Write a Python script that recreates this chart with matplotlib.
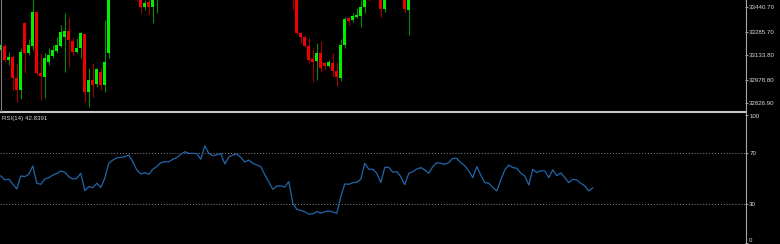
import numpy as np
import matplotlib
matplotlib.use("Agg")
import matplotlib.pyplot as plt
from matplotlib.lines import Line2D

# ---------------- data ----------------
# bar index of candles that are visible in the price window
bar_idx = list(range(0, 28)) + [34, 35, 36, 37, 38, 39] + list(range(73, 93)) + [95, 96, 101, 102]
opens = [33167.7, 33193.3, 33103.8, 33122.9, 32988.7, 32911.9, 33340.3, 33148.5, 33193.3, 33410.7,
         33020.6, 32995.1, 33091.0, 33129.3, 33161.3, 33193.3, 33250.8, 33289.2, 33225.2, 33154.9,
         33180.5, 33270.0, 32899.2, 32975.9, 32950.3, 33027.0, 32943.9, 33148.5,
         33560.0, 33530.0, 33442.6, 33474.6, 33442.6, 33520.0,
         33520.0, 33492.0, 33276.4, 33250.8, 33193.3, 33110.2, 33097.4, 33148.5, 33084.6, 33065.4,
         33084.6, 33033.4, 32988.7, 33199.7, 33372.3, 33359.5, 33378.7, 33385.1, 33442.6, 33540.0,
         33520.0, 33429.9, 33520.0, 33423.5]
highs = [33212.5, 33206.1, 33154.9, 33135.7, 33084.6, 33180.5, 33346.7, 33238.0, 33500.0, 33417.1,
         33148.5, 33148.5, 33180.5, 33199.7, 33250.8, 33327.5, 33404.3, 33372.3, 33244.4, 33244.4,
         33282.8, 33276.4, 33052.6, 33084.6, 33052.6, 33059.0, 33359.5, 33540.0,
         33580.0, 33560.0, 33490.0, 33495.0, 33520.0, 33560.0,
         33540.0, 33510.0, 33280.0, 33263.6, 33244.4, 33180.5, 33212.5, 33225.2, 33091.0, 33103.8,
         33148.5, 33091.0, 33238.0, 33378.7, 33378.7, 33404.3, 33436.2, 33490.0, 33520.0, 33550.0,
         33540.0, 33520.0, 33540.0, 33520.0]
lows = [33154.9, 33091.0, 33071.8, 32911.9, 32835.2, 32854.4, 33020.6, 33135.7, 33167.7, 33007.9,
        32848.0, 32860.8, 33071.8, 33116.5, 33148.5, 33186.9, 33027.0, 33059.0, 33135.7, 33148.5,
        33116.5, 32835.2, 32803.2, 32867.2, 32931.1, 32911.9, 32899.2, 33116.5,
        33481.0, 33404.3, 33423.5, 33391.5, 33340.3, 33404.3,
        33423.5, 33270.0, 33212.5, 33186.9, 33084.6, 32963.1, 32975.9, 33027.0, 33039.8, 33059.0,
        32995.1, 32937.5, 32969.5, 33180.5, 33327.5, 33346.7, 33372.3, 33314.8, 33404.3, 33478.0,
        33378.7, 33410.7, 33404.3, 33263.6]
closes = [33199.7, 33103.8, 33122.9, 32988.7, 32911.9, 33154.9, 33148.5, 33199.7, 33410.7, 33020.6,
          33001.5, 33116.5, 33135.7, 33167.7, 33199.7, 33282.8, 33289.2, 33231.6, 33154.9, 33180.5,
          33276.4, 32899.2, 32975.9, 32943.9, 33046.2, 32943.9, 33091.0, 33520.0,
          33495.0, 33442.6, 33468.2, 33442.6, 33500.0, 33540.0,
          33495.0, 33276.4, 33250.8, 33193.3, 33103.8, 33091.0, 33148.5, 33052.6, 33065.4, 33091.0,
          33033.4, 32995.1, 33199.7, 33365.9, 33353.1, 33385.1, 33391.5, 33442.6, 33500.0, 33510.0,
          33429.9, 33500.0, 33429.9, 33500.0]

rsi = [52.1, 49.0, 49.7, 45.6, 42.0, 52.1, 51.6, 53.4, 59.9, 46.4,
       45.6, 49.7, 50.8, 52.8, 54.0, 56.0, 55.0, 51.5, 49.7, 50.3,
       54.2, 40.6, 43.8, 43.0, 46.4, 43.2, 50.3, 62.0, 64.5, 66.2,
       66.6, 67.1, 68.4, 63.2, 56.8, 53.6, 54.7, 53.4, 57.3, 59.4,
       62.5, 63.2, 63.2, 65.1, 66.4, 69.0, 71.0, 69.7, 69.7, 69.5,
       65.1, 75.5, 69.7, 67.9, 68.5, 69.5, 61.5, 66.8, 68.4, 69.2,
       66.6, 63.0, 64.5, 62.0, 60.6, 59.4, 53.0, 47.5, 41.7, 44.3,
       44.3, 43.5, 47.7, 30.8, 26.1, 25.2, 24.2, 22.3, 22.5, 24.5,
       23.0, 24.3, 24.8, 24.0, 23.0, 36.0, 45.9, 45.6, 46.9, 47.2,
       49.5, 62.0, 57.3, 57.3, 54.2, 46.9, 58.8, 58.8, 55.0, 55.5,
       51.5, 45.3, 54.2, 55.5, 57.5, 58.6, 56.8, 54.2, 59.4, 62.5,
       61.9, 61.2, 62.5, 65.8, 65.8, 62.5, 60.0, 56.0, 50.8, 59.4,
       52.8, 46.9, 46.4, 43.0, 40.4, 49.0, 56.8, 60.6, 58.6, 58.1,
       54.2, 52.1, 45.0, 57.3, 54.7, 56.2, 56.0, 50.8, 56.8, 52.3,
       54.5, 50.8, 46.9, 49.5, 49.0, 46.4, 44.3, 40.4, 42.8391]

price_ticks = [32826.90, 32978.80, 33133.80, 33285.70, 33440.70]
rsi_levels = [30, 70]
rsi_ticks = [100, 70, 30, 0]
rsi_title = "RSI(14) 42.8391"

# ---------------- figure ----------------
W, H = 780, 244
fig = plt.figure(figsize=(W / 100, H / 100), dpi=100, facecolor="black")
FONT = "Liberation Sans"
FS = 4.4
TXT = "#dcdcdc"

def px_rect(x0, y0, x1, y1):
    return [x0 / W, 1 - y1 / H, (x1 - x0) / W, (y1 - y0) / H]

xlim = (-0.2, 186.05)

# main price panel
ax = fig.add_axes(px_rect(0, 0, 745, 111))
ax.set_facecolor("black")
ax.set_xlim(*xlim)
ax.set_ylim(32777.7, 33487.4)

o = np.array(opens); h = np.array(highs); l = np.array(lows); c = np.array(closes)
xi = np.array(bar_idx)
up = c >= o
body_col = np.where(up, "#00f000", "#f00000")
wick_col = np.where(up, "#0c8a0c", "#a00000")
ax.vlines(xi, l, h, colors=wick_col, linewidth=0.8, zorder=2)
bottoms = np.minimum(o, c)
heights = np.maximum(np.abs(c - o), 4.0)
ax.bar(xi, heights, bottom=bottoms, width=0.72, color=body_col, linewidth=0, zorder=3)

ax.yaxis.tick_right()
ax.set_yticks(price_ticks)
ax.set_yticklabels([f"{v:.2f}" for v in price_ticks], fontsize=FS, family=FONT, color=TXT)
ax.tick_params(axis="y", length=2.0, width=0.7, color="#a0a0a0", pad=1.0)
ax.set_xticks([])
for s in ax.spines.values():
    s.set_visible(False)

# RSI panel
ax2 = fig.add_axes(px_rect(0, 114.5, 745, 242.8))
ax2.set_facecolor("black")
ax2.set_xlim(*xlim)
ax2.set_ylim(0, 100)
ax2.plot(np.arange(len(rsi)), rsi, color="#2266aa", linewidth=0.9, zorder=3)
for lv in rsi_levels:
    ax2.axhline(lv, color="#8c8c8c", linewidth=0.7, linestyle=(0, (1.0, 2.0)), zorder=1)
ax2.yaxis.tick_right()
ax2.set_yticks(rsi_ticks)
ax2.set_yticklabels([str(v) for v in rsi_ticks], fontsize=FS, family=FONT, color=TXT)
ax2.tick_params(axis="y", length=2.0, width=0.7, color="#a0a0a0", pad=1.0)
labs = ax2.get_yticklabels()
labs[0].set_verticalalignment("top")
labs[-1].set_verticalalignment("bottom")
ax2.set_xticks([])
for s in ax2.spines.values():
    s.set_visible(False)

fig.text(2 / W, 1 - 118.5 / H, rsi_title, fontsize=FS, family=FONT, color=TXT, va="center", ha="left")

# frame lines
fig.add_artist(Line2D([0, 745 / W], [1 - 112.2 / H] * 2, color="#c8c8c8", linewidth=1.5, transform=fig.transFigure))
fig.add_artist(Line2D([745.5 / W] * 2, [0, 1], color="#a8a8a8", linewidth=0.8, transform=fig.transFigure))
fig.add_artist(Line2D([0.5 / W] * 2, [1 - 111 / H, 1], color="#7a7a7a", linewidth=0.8, transform=fig.transFigure))

fig.savefig("out.png", dpi=100, facecolor="black")
